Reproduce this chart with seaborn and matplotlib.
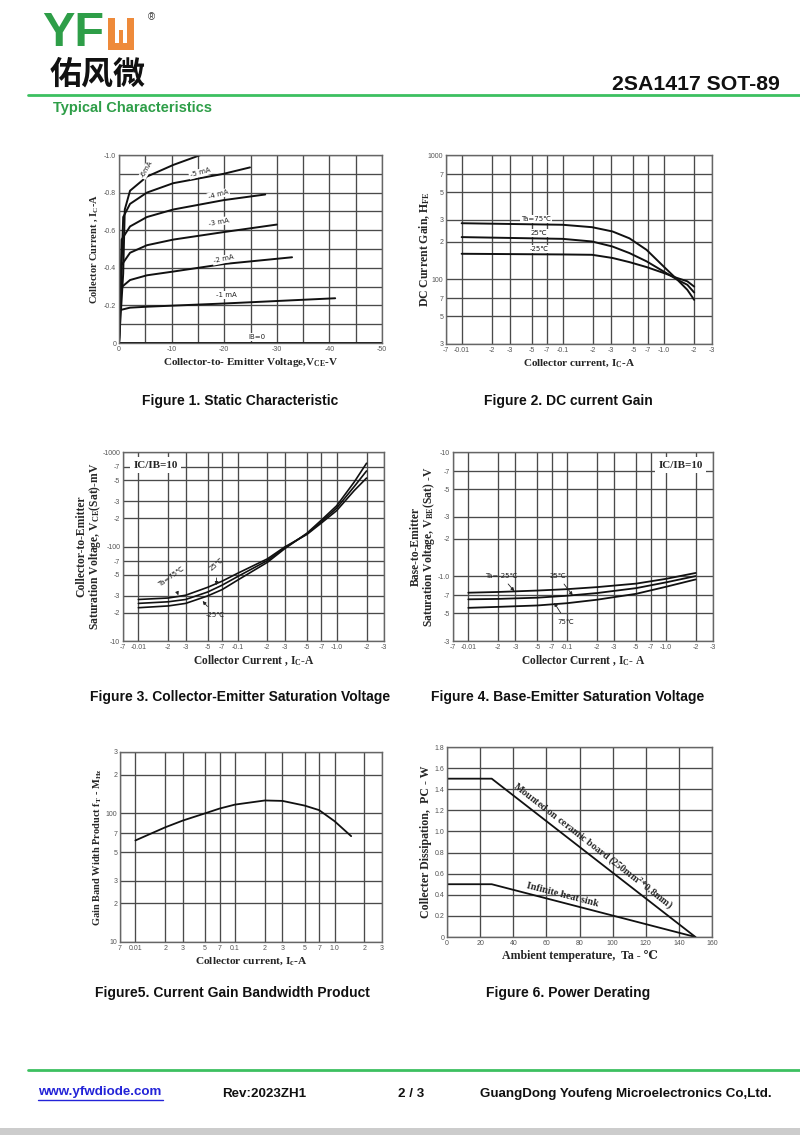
import numpy as np
import pandas as pd
import matplotlib
matplotlib.use('Agg')
import matplotlib.pyplot as plt
import seaborn as sns
from matplotlib.ticker import FixedLocator, FixedFormatter, NullLocator

# ---- данные ----
# Figure 1: Ic(Vce) при разных Ib
vce_6 = [0, -0.8, -1.1, -2.1, -5.3, -10.3, -15.5]
ic_6 = [0, -0.37, -0.71, -0.81, -0.885, -0.947, -1.0]
vce_5 = [0, -0.8, -2.1, -5.3, -10.3, -19.9, -24.9]
ic_5 = [0, -0.67, -0.74, -0.80, -0.85, -0.90, -0.934]
vce_4 = [0, -0.5, -2.1, -5.3, -10.3, -19.9, -27.8]
ic_4 = [0, -0.55, -0.62, -0.67, -0.71, -0.76, -0.79]
vce_3 = [0, -0.5, -2.1, -5.3, -10.3, -19.9, -30.0]
ic_3 = [0, -0.415, -0.48, -0.52, -0.55, -0.59, -0.63]
vce_2 = [0, -0.2, -2.1, -5.3, -10.3, -19.9, -32.9]
ic_2 = [0, -0.29, -0.335, -0.36, -0.38, -0.42, -0.456]
vce_1 = [0, -0.2, -2.1, -5.3, -19.9, -41.1]
ic_1 = [0, -0.175, -0.188, -0.193, -0.21, -0.238]
vce_0 = [0, -50]
ic_0 = [0, 0]

# Figure 2: hFE(Ic)
ic_hfe = [0.01, 0.1, 0.195, 0.311, 0.458, 0.676, 1.0, 1.36, 1.71, 2.0]
hfe_75 = [282, 274, 262, 242, 213, 172, 126, 99, 82, 68]
hfe_25 = [218, 211, 201, 183, 162, 139, 115, 99, 90, 78]
hfe_m25 = [160, 158, 157, 148, 137, 125, 112, 102, 96, 87]

# Figure 3: Vce(sat) мВ
ic_vce = [0.01, 0.02, 0.03, 0.05, 0.07, 0.1, 0.2, 0.3, 0.5, 0.7, 1.0, 1.5, 2.0]
vce_75 = [27.5, 28.5, 30.5, 37, 43, 52, 74, 99, 134, 177, 240, 390, 530]
vce_25 = [25, 26, 27.5, 33, 39, 48, 71, 97, 136, 183, 255, 430, 630]
vce_m25 = [22.5, 23.5, 25, 30, 35, 44, 68, 95, 138, 190, 270, 480, 760]

# Figure 4: Vbe(sat) В
ic_vbe = [0.01, 0.02, 0.05, 0.1, 0.2, 0.5, 1.0, 2.0]
vbe_m25 = [0.735, 0.745, 0.765, 0.785, 0.815, 0.87, 0.95, 1.06]
vbe_25 = [0.65, 0.655, 0.67, 0.695, 0.73, 0.80, 0.89, 1.0]
vbe_75 = [0.555, 0.565, 0.58, 0.605, 0.645, 0.72, 0.82, 0.94]

# Figure 5: fT(Ic)
ic_ft = [0.01, 0.02, 0.03, 0.05, 0.07, 0.1, 0.2, 0.3, 0.5, 0.7, 1.0, 1.47]
ft = [61.6, 78, 88, 100, 109, 117, 126, 125, 115, 106, 87, 66.5]

# Figure 6: Pc(Ta)
ta_pc = [0, 27, 150]
pc_board = [1.5, 1.5, 0]
pc_sink = [0.5, 0.5, 0]

# подписи делений
log_x_ticks = [0.007, 0.01, 0.02, 0.03, 0.05, 0.07, 0.1, 0.2, 0.3, 0.5, 0.7, 1.0, 2, 3]
log_x_labels = ['-7', '-0.01', '-2', '-3', '-5', '-7', '-0.1', '-2', '-3', '-5', '-7', '-1.0', '-2', '-3']
log_x_labels5 = ['7', '0.01', '2', '3', '5', '7', '0.1', '2', '3', '5', '7', '1.0', '2', '3']
hfe_ticks = [30, 50, 70, 100, 200, 300, 500, 700, 1000]
hfe_labels = ['3', '5', '7', '100', '2', '3', '5', '7', '1000']
vce_ticks = [10, 20, 30, 50, 70, 100, 200, 300, 500, 700, 1000]
vce_labels = ['-10', '-2', '-3', '-5', '-7', '-100', '-2', '-3', '-5', '-7', '-1000']
vbe_ticks = [0.3, 0.5, 0.7, 1.0, 2, 3, 5, 7, 10]
vbe_labels = ['-3', '-5', '-7', '-1.0', '-2', '-3', '-5', '-7', '-10']
ft_ticks = [10, 20, 30, 50, 70, 100, 200, 300]
ft_labels = ['10', '2', '3', '5', '7', '100', '2', '3']

sns.set_theme(style='white')
plt.rcParams['font.family'] = ['Liberation Sans', 'DejaVu Sans', 'Noto Sans CJK SC']
plt.rcParams['mathtext.fontset'] = 'custom'
plt.rcParams['mathtext.rm'] = 'Liberation Serif:bold'
plt.rcParams['mathtext.it'] = 'Liberation Serif:bold'
plt.rcParams['mathtext.bf'] = 'Liberation Serif:bold'

SERIF = ['Liberation Serif', 'DejaVu Serif']
GRID = '#4a4a4a'
TICKC = '#555555'

fig = plt.figure(figsize=(8, 11.35), dpi=100)
W, H = 800, 1135


def box(l, t, r, b):
    return [l / W, 1 - b / H, (r - l) / W, (b - t) / H]


def style_ax(ax, xlabel, ylabel, ylab_x, xsize=8, ysize=8):
    ax.grid(True, which='major', color=GRID, lw=0.95)
    ax.set_axisbelow(True)
    for s in ax.spines.values():
        s.set_color('#666666')
        s.set_linewidth(1.0)
    ax.tick_params(length=0, labelsize=5, colors=TICKC, pad=2)
    ax.set_xlabel(xlabel, family=SERIF, fontsize=xsize, fontweight='bold', labelpad=2)
    ax.set_ylabel(ylabel, family=SERIF, fontsize=ysize, fontweight='bold', linespacing=0.9)
    ax.yaxis.set_label_coords(ylab_x, 0.5)


def log_ticks(ax, axis, ticks, labels):
    a = ax.xaxis if axis == 'x' else ax.yaxis
    a.set_major_locator(FixedLocator(ticks))
    a.set_major_formatter(FixedFormatter(labels))
    a.set_minor_locator(NullLocator())


def curve(ax, x, y, lw=1.4):
    sns.lineplot(x=x, y=y, ax=ax, color='#111111', lw=lw, sort=False, estimator=None)


def tag(ax, x, y, s, rot=0, size=5, **kw):
    ax.text(x, y, s, fontsize=size, rotation=rot, ha='center', va='center', color='#222222',
            family=['DejaVu Sans'],
            bbox=dict(boxstyle='square,pad=0.15', fc='white', ec='none'), **kw)


def arrow_tag(ax, s, xy, xytext, rot=0):
    ax.annotate(s, xy=xy, xytext=xytext, fontsize=5, rotation=rot, ha='center', va='center',
                family=['DejaVu Sans'], color='#222222',
                arrowprops=dict(arrowstyle='-|>', lw=0.6, color='#222222', mutation_scale=5,
                                shrinkA=2, shrinkB=0))


# ---------- Figure 1 ----------
ax1 = fig.add_axes(box(119, 155, 382, 343))
for vx, iy in [(vce_6, ic_6), (vce_5, ic_5), (vce_4, ic_4), (vce_3, ic_3), (vce_2, ic_2), (vce_1, ic_1),
               (vce_0, ic_0)]:
    curve(ax1, vx, iy)
ax1.set_xlim(0, -50)
ax1.set_ylim(0, -1.0)
ax1.xaxis.set_major_locator(FixedLocator(np.arange(0, -50.1, -5)))
ax1.xaxis.set_major_formatter(FixedFormatter(['0', '', '-10', '', '-20', '', '-30', '', '-40', '', '-50']))
ax1.yaxis.set_major_locator(FixedLocator(np.round(np.arange(0, -1.01, -0.1), 1)))
ax1.yaxis.set_major_formatter(FixedFormatter(['0', '', '-0.2', '', '-0.4', '', '-0.6', '', '-0.8', '', '-1.0']))
style_ax(ax1, 'Collector-to- Emitter Voltage,V$_{CE}$-V', 'Collector Current , I$_C$-A', -0.073, 8, 7.5)
tag(ax1, -5.3, -0.925, '-6mA', rot=60)
tag(ax1, -15.4, -0.905, '-5 mA', rot=15)
tag(ax1, -18.9, -0.79, '-4 mA', rot=15)
tag(ax1, -19.0, -0.645, '-3 mA', rot=10)
tag(ax1, -19.9, -0.445, '-2 mA', rot=12)
tag(ax1, -20.5, -0.255, '-1 mA')
tag(ax1, -26.2, -0.03, 'IB=0')

# ---------- Figure 2 ----------
ax2 = fig.add_axes(box(446, 155, 712, 344))
for y in [hfe_75, hfe_25, hfe_m25]:
    curve(ax2, ic_hfe, y)
ax2.set_xscale('log')
ax2.set_yscale('log')
ax2.set_xlim(0.007, 3)
ax2.set_ylim(30, 1000)
log_ticks(ax2, 'x', log_x_ticks, log_x_labels)
log_ticks(ax2, 'y', hfe_ticks, hfe_labels)
style_ax(ax2, 'Collector current, I$_C$-A', 'DC Current Gain, H$_{FE}$', -0.052, 8, 8.5)
tag(ax2, 0.054, 305, 'Ta=75℃')
tag(ax2, 0.0586, 236, '25℃')
tag(ax2, 0.0586, 176, '-25℃')

# ---------- Figure 3 ----------
ax3 = fig.add_axes(box(123, 452, 384, 641))
for y in [vce_75, vce_25, vce_m25]:
    curve(ax3, ic_vce, y, lw=1.2)
ax3.set_xscale('log')
ax3.set_yscale('log')
ax3.set_xlim(0.007, 3)
ax3.set_ylim(10, 1000)
log_ticks(ax3, 'x', log_x_ticks, log_x_labels)
log_ticks(ax3, 'y', vce_ticks, vce_labels)
style_ax(ax3, 'Collector Current , I$_C$-A', 'Collector-to-Emitter\nSaturation Voltage, V$_{CE}$(Sat)-mV',
         -0.078, 8.3, 8.4)
ax3.text(0.04, 0.93, 'IC/IB=10', transform=ax3.transAxes, family=SERIF, fontsize=8, fontweight='bold',
         va='center', ha='left', bbox=dict(boxstyle='square,pad=0.3', fc='white', ec='none'))
arrow_tag(ax3, 'Ta=75℃', (0.0253, 30.5), (0.0215, 48), rot=35)
arrow_tag(ax3, '25℃', (0.0615, 39), (0.0615, 65), rot=40)
arrow_tag(ax3, '-25℃', (0.0445, 26.5), (0.059, 18.9))

# ---------- Figure 4 ----------
ax4 = fig.add_axes(box(453, 452, 713, 641))
for y in [vbe_m25, vbe_25, vbe_75]:
    curve(ax4, ic_vbe, y, lw=1.3)
ax4.set_xscale('log')
ax4.set_yscale('log')
ax4.set_xlim(0.007, 3)
ax4.set_ylim(0.3, 10)
log_ticks(ax4, 'x', log_x_ticks, log_x_labels)
log_ticks(ax4, 'y', vbe_ticks, vbe_labels)
style_ax(ax4, 'Collector Current , I$_C$- A', 'Base-to-Emitter\nSaturation Voltage, V$_{BE}$(Sat) -V',
         -0.062, 8.3, 8.4)
ax4.text(0.96, 0.93, 'IC/IB=10', transform=ax4.transAxes, family=SERIF, fontsize=8, fontweight='bold',
         va='center', ha='right', bbox=dict(boxstyle='square,pad=0.3', fc='white', ec='none'))
arrow_tag(ax4, 'Ta=-25℃', (0.0292, 0.757), (0.0214, 1.01))
arrow_tag(ax4, '25℃', (0.114, 0.70), (0.08, 1.01))
arrow_tag(ax4, '75℃', (0.074, 0.61), (0.098, 0.43))

# ---------- Figure 5 ----------
ax5 = fig.add_axes(box(120, 752, 382, 942))
curve(ax5, ic_ft, ft, lw=1.3)
ax5.set_xscale('log')
ax5.set_yscale('log')
ax5.set_xlim(0.007, 3)
ax5.set_ylim(10, 300)
log_ticks(ax5, 'x', log_x_ticks, log_x_labels5)
log_ticks(ax5, 'y', ft_ticks, ft_labels)
style_ax(ax5, 'Collector current, I$_c$-A', 'Gain Band Width Product f$_T$ - M$_{Hz}$', -0.062, 8.2, 7.5)

# ---------- Figure 6 ----------
ax6 = fig.add_axes(box(447, 747, 712, 937))
curve(ax6, ta_pc, pc_board, lw=1.3)
curve(ax6, ta_pc, pc_sink, lw=1.3)
ax6.set_xlim(0, 160)
ax6.set_ylim(0, 1.8)
ax6.xaxis.set_major_locator(FixedLocator(range(0, 161, 20)))
ax6.xaxis.set_major_formatter(FixedFormatter([str(v) for v in range(0, 161, 20)]))
ax6.yaxis.set_major_locator(FixedLocator(np.round(np.arange(0, 1.81, 0.2), 1)))
ax6.yaxis.set_major_formatter(FixedFormatter(['0', '0.2', '0.4', '0.6', '0.8', '1.0', '1.2', '1.4', '1.6', '1.8']))
style_ax(ax6, 'Ambient temperature,  Ta - ℃', 'Collecter Dissipation,  PC - W', -0.055, 8.6, 8.6)
ang_b = np.degrees(np.arctan2(-1.5, 123))
ang_s = np.degrees(np.arctan2(-0.5, 123))
ax6.text(88, 0.87, 'Mounted on ceramic board (250mm$^2$*0.8mm)', rotation=ang_b, transform_rotates_text=True,
         rotation_mode='anchor', ha='center', va='center', family=SERIF, fontsize=7.3, fontweight='bold')
ax6.text(70, 0.40, 'Infinite heat sink', rotation=ang_s, transform_rotates_text=True,
         rotation_mode='anchor', ha='center', va='center', family=SERIF, fontsize=7.3, fontweight='bold')

# ---------- подписи рисунков ----------
cap = dict(fontsize=10, fontweight='bold', ha='center', va='center', color='#111111')
fig.text(240 / W, 1 - 401 / H, 'Figure 1. Static Characteristic', **cap)
fig.text(568 / W, 1 - 401 / H, 'Figure 2. DC current Gain', **cap)
fig.text(240 / W, 1 - 697 / H, 'Figure 3. Collector-Emitter Saturation Voltage', **cap)
fig.text(568 / W, 1 - 697 / H, 'Figure 4. Base-Emitter Saturation Voltage', **cap)
fig.text(232 / W, 1 - 993 / H, 'Figure5. Current Gain Bandwidth Product', **cap)
fig.text(568 / W, 1 - 993 / H, 'Figure 6. Power Derating', **cap)

# ---------- шапка ----------
GREEN = '#2e9e48'
ORANGE = '#ee8a3a'


def px_rect(x0, y0, x1, y1, color):
    fig.add_artist(plt.Rectangle((x0 / W, 1 - y1 / H), (x1 - x0) / W, (y1 - y0) / H,
                                 transform=fig.transFigure, color=color, lw=0))


fig.text(42 / W, 1 - 34 / H, 'YF', fontsize=35, fontweight='bold', color=GREEN, va='center', ha='left',
         family=['Liberation Sans'])
# оранжевая буква логотипа
px_rect(108, 18, 115, 50, ORANGE)
px_rect(127, 18, 134, 50, ORANGE)
px_rect(108, 43, 134, 50, ORANGE)
px_rect(119, 30, 123, 50, ORANGE)
fig.text(151 / W, 1 - 17 / H, '®', fontsize=7, color='#333333', va='center', ha='center')
fig.text(50 / W, 1 - 75 / H, '佑风微', fontsize=23, fontweight='bold', color='#111111', va='center', ha='left',
         family=['Noto Sans CJK SC'])
fig.text(780 / W, 1 - 84 / H, '2SA1417 SOT-89', fontsize=15.3, fontweight='bold', color='#111111',
         va='center', ha='right')
fig.add_artist(plt.Line2D([28 / W, 1.0], [1 - 95 / H, 1 - 95 / H], color='#3cc060', lw=2))
fig.text(53 / W, 1 - 108 / H, 'Typical Characteristics', fontsize=10.5, fontweight='bold', color=GREEN,
         va='center', ha='left')

# ---------- подвал ----------
fig.add_artist(plt.Line2D([28 / W, 1.0], [1 - 1070 / H, 1 - 1070 / H], color='#3cc060', lw=2))
fig.text(38 / W, 1 - 1092 / H, 'www.yfwdiode.com', fontsize=9.6, fontweight='bold', color='#2323d8',
         va='center', ha='left')
fig.add_artist(plt.Line2D([38 / W, 163 / W], [1 - 1100 / H, 1 - 1100 / H], color='#2323d8', lw=1))
foot = dict(fontsize=9.6, fontweight='bold', color='#111111', va='center', ha='left')
fig.text(222 / W, 1 - 1094 / H, 'Rev:2023ZH1', **foot)
fig.text(398 / W, 1 - 1094 / H, '2 / 3', **foot)
fig.text(480 / W, 1 - 1094 / H, 'GuangDong Youfeng Microelectronics Co,Ltd.', **foot)
fig.add_artist(plt.Rectangle((0, 0), 1, 7 / H, transform=fig.transFigure, color='#cccccc', lw=0))

fig.savefig('out.png', dpi=100)
